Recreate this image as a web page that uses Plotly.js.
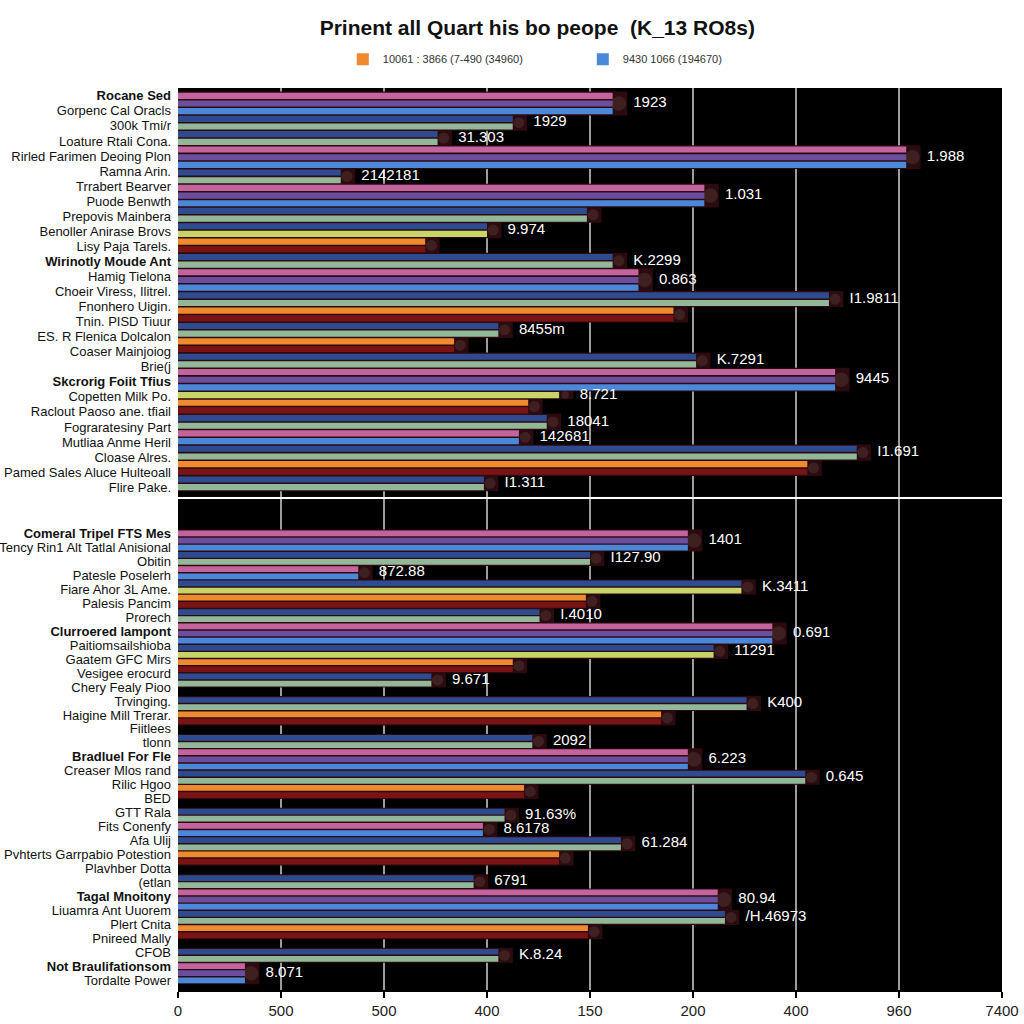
<!DOCTYPE html>
<html>
<head>
<meta charset="utf-8">
<script src="https://cdn.plot.ly/plotly-3.0.1.min.js"></script>
<style>html,body{margin:0;padding:0;background:#fff}#chart{width:1024px;height:1024px}</style>
</head>
<body>
<div id="chart"></div>
<script>
// ---------- DATA ----------
const xTickLabels = ['0','500','500','400','150','200','400','960','7400'];

const topRowLabels = ['<b>Rocane Sed</b>','Gorpenc Cal Oracls','300k Tmi/r','Loature Rtali Cona.','Rirled Farimen Deoing Plon','Ramna Arin.','Trrabert Bearver','Puode Benwth','Prepovis Mainbera','Benoller Anirase Brovs','Lisy Paja Tarels.','<b>Wirinotly Moude Ant</b>','Hamig Tielona','Choeir Viress, Ilitrel.','Fnonhero Uigin.','Tnin. PISD Tiuur','ES. R Flenica Dolcalon','Coaser Mainjoiog','Brie(j','<b>Skcrorig Foiit Tfius</b>','Copetten Milk Po.','Raclout Paoso ane. tfiail','Fograratesiny Part','Mutliaa Anme Heril','Cloase Alres.','Pamed Sales Aluce Hulteoall','Flire Pake.'];

const bottomRowLabels = ['<b>Comeral Tripel FTS Mes</b>','Tency Rin1 Alt Tatlal Anisional','Obitin','Patesle Poselerh','Fiare Ahor 3L Ame.','Palesis Pancim','Prorech','<b>Clurroered lampont</b>','Paitiomsailshioba','Gaatem GFC Mirs','Vesigee erocurd','Chery Fealy Pioo','Trvinging.','Haigine Mill Trerar.','Fiitlees','tlonn','<b>Bradluel For Fle</b>','Creaser Mlos rand','Rilic Hgoo','BED','GTT Rala','Fits Conenfy','Afa Ulij','Pvhterts Garrpabio Potestion','Plavhber Dotta','(etlan','<b>Tagal Mnoitony</b>','Liuamra Ant Uuorem','Plert Cnita','Pnireed Mally','CFOB','<b>Not Braulifationsom</b>','Tordalte Power'];

// bundle kinds: A = pink/purple/blue, AP = pink/blue, B = navy/green, BY = navy/lime, C = orange/darkred, Y = lime
const topKinds  = ['A','B','B','A','B','A','B','BY','C','B','A','B','C','B','C','B','A','Y','C','B','AP','B','C','B'];
const topValues = [4.22,3.25,2.52,7.07,1.58,5.11,3.97,3.0,2.4,4.22,4.47,6.32,4.81,3.11,2.68,5.03,6.38,3.7,3.4,3.58,3.31,6.59,6.11,2.97];
const topValueText = ['1923','1929','31.303','1.988','2142181','1.031','','9.974','','K.2299','0.863','I1.9811','','8455m','','K.7291','9445','8.721','','18041','142681','I1.691','','I1.311'];

const bottomKinds  = ['A','B','AP','BY','C','B','A','BY','C','B','gap','B','C','gap','B','A','B','C','gap','B','AP','B','C','gap','B','A','B','C','gap','B','A'];
const bottomValues = [4.95,4.0,1.75,5.47,3.96,3.51,5.77,5.2,3.25,2.46,null,5.52,4.69,null,3.44,4.95,6.09,3.36,null,3.17,2.96,4.3,3.7,null,2.87,5.24,5.31,3.98,null,3.11,0.65];
const bottomValueText = ['1401','I127.90','872.88','K.3411','','I.4010','0.691','11291','','9.671','','K400','','','2092','6.223','0.645','','','91.63%','8.6178','61.284','','','6791','80.94','/H.46973','','','K.8.24','8.071'];

const legendNames = {orange:'10061 : 3866 (7-490 (34960)', blue:'9430 1066 (194670)'};

// ---------- STYLE ----------
const STRIPES = {A:['pink','purple','blue'], AP:['pink','blue'], B:['navy','green'], BY:['navy','lime'], C:['orange','darkred'], Y:['lime']};
const COLORS = {pink:'#c4649f', purple:'#6b4e9e', blue:'#4c88da', navy:'#2e4b8f', green:'#92b899', lime:'#c8d468', orange:'#f08a2e', darkred:'#7a1414'};
const COLOR_ORDER = ['pink','purple','blue','navy','green','lime','orange','darkred'];
const GAP = 1.3;
const FONT = 'Liberation Sans, Arial, sans-serif';

function buildPanel(kinds, values, texts) {
  let pos = 0;
  const stripes = {};
  const bundles = [];
  kinds.forEach((k, i) => {
    if (k === 'gap') { pos += GAP; return; }
    const start = pos;
    STRIPES[k].forEach(c => {
      if (!stripes[c]) stripes[c] = {x: [], y: []};
      stripes[c].x.push(values[i]);
      stripes[c].y.push(pos + 0.5);
      pos += 1;
    });
    bundles.push({start: start, end: pos, value: values[i], text: texts[i]});
  });
  return {stripes, bundles, total: pos};
}

function panelTraces(panel, xa, ya, withLegend) {
  const tr = [];
  // dark rim behind each bundle
  tr.push({
    type: 'bar', orientation: 'h', xaxis: xa, yaxis: ya, showlegend: false, hoverinfo: 'skip',
    x: panel.bundles.map(b => b.value + 0.14),
    y: panel.bundles.map(b => (b.start + b.end) / 2),
    width: panel.bundles.map(b => (b.end - b.start) + 0.1),
    marker: {color: '#2c0b10', line: {width: 0}}
  });
  COLOR_ORDER.forEach(c => {
    const s = panel.stripes[c];
    if (!s) return;
    const show = withLegend && (c === 'orange' || c === 'blue');
    tr.push({
      type: 'bar', orientation: 'h', xaxis: xa, yaxis: ya,
      x: s.x, y: s.y, width: 0.8,
      name: show ? legendNames[c] : c,
      showlegend: show, legendrank: c === 'orange' ? 1 : 2,
      marker: {color: COLORS[c], line: {width: 0}}
    });
  });
  // smudges at bar ends
  tr.push({
    type: 'scatter', mode: 'markers', xaxis: xa, yaxis: ya, showlegend: false, hoverinfo: 'skip',
    x: panel.bundles.map(b => b.value + 0.06),
    y: panel.bundles.map(b => (b.start + b.end) / 2),
    marker: {size: panel.bundles.map(b => 4 + (b.end - b.start) * 3.5), color: 'rgba(125,100,88,0.35)', line: {width: 0}}
  });
  const lab = panel.bundles.filter(b => b.text);
  tr.push({
    type: 'scatter', mode: 'text', xaxis: xa, yaxis: ya, showlegend: false, hoverinfo: 'skip',
    x: lab.map(b => b.value + 0.2),
    y: lab.map(b => (b.start + b.end) / 2),
    text: lab.map(b => b.text),
    textposition: 'middle right',
    textfont: {color: '#ffffff', size: 15, family: FONT}
  });
  return tr;
}

const topPanel = buildPanel(topKinds, topValues, topValueText);
const botPanel = buildPanel(bottomKinds, bottomValues, bottomValueText);

function spread(n, a, b) { const out = []; for (let i = 0; i < n; i++) out.push(a + (b - a) * i / (n - 1)); return out; }

const traces = [].concat(
  panelTraces(topPanel, 'x2', 'y2', true),
  panelTraces(botPanel, 'x', 'y', false)
);

const xCommon = {
  range: [0, 8], tickvals: xTickLabels.map((_, i) => i), ticktext: xTickLabels,
  showgrid: true, gridcolor: '#9c9c9c', gridwidth: 1.5, zeroline: false, fixedrange: true
};

const layout = {
  width: 1024, height: 1024,
  paper_bgcolor: '#ffffff', plot_bgcolor: '#000000',
  margin: {l: 178, r: 22, t: 88, b: 34},
  barmode: 'overlay',
  title: {
    text: '<b>Prinent all Quart his bo peope  (K_13 RO8s)</b>',
    font: {size: 21, family: FONT, color: '#111'},
    x: 0.436, xref: 'paper', xanchor: 'center', y: 0.973, yref: 'container', yanchor: 'middle'
  },
  showlegend: true,
  legend: {
    orientation: 'h', x: 0.2, xanchor: 'left', y: 1.032, yanchor: 'middle',
    font: {size: 11, family: FONT, color: '#333'}, entrywidth: 195, bgcolor: 'rgba(0,0,0,0)'
  },
  xaxis: Object.assign({}, xCommon, {
    anchor: 'y', domain: [0, 1], ticks: 'outside', ticklen: 6, tickcolor: '#000', tickwidth: 1.5,
    showline: true, linecolor: '#000', linewidth: 1.5,
    tickfont: {size: 15, family: FONT, color: '#222'}
  }),
  xaxis2: Object.assign({}, xCommon, {anchor: 'y2', matches: 'x', showticklabels: false, ticks: ''}),
  yaxis: {
    anchor: 'x', domain: [0, 0.5443], range: [botPanel.total + 0.85, -4.3],
    tickvals: spread(bottomRowLabels.length, 0.5, botPanel.total - 0.5), ticktext: bottomRowLabels,
    showgrid: false, zeroline: false, ticks: '', ticklabelstandoff: 6, automargin: false,
    tickfont: {size: 13, family: FONT, color: '#111'}, fixedrange: true
  },
  yaxis2: {
    anchor: 'x2', domain: [0.5466, 1], range: [topPanel.total + 0.78, -0.52],
    tickvals: spread(topRowLabels.length, 0.5, topPanel.total - 0.5), ticktext: topRowLabels,
    showgrid: false, zeroline: false, ticks: '', ticklabelstandoff: 6, automargin: false,
    tickfont: {size: 13, family: FONT, color: '#111'}, fixedrange: true
  }
};

Plotly.newPlot('chart', traces, layout, {displayModeBar: false, staticPlot: true});
</script>
</body>
</html>
